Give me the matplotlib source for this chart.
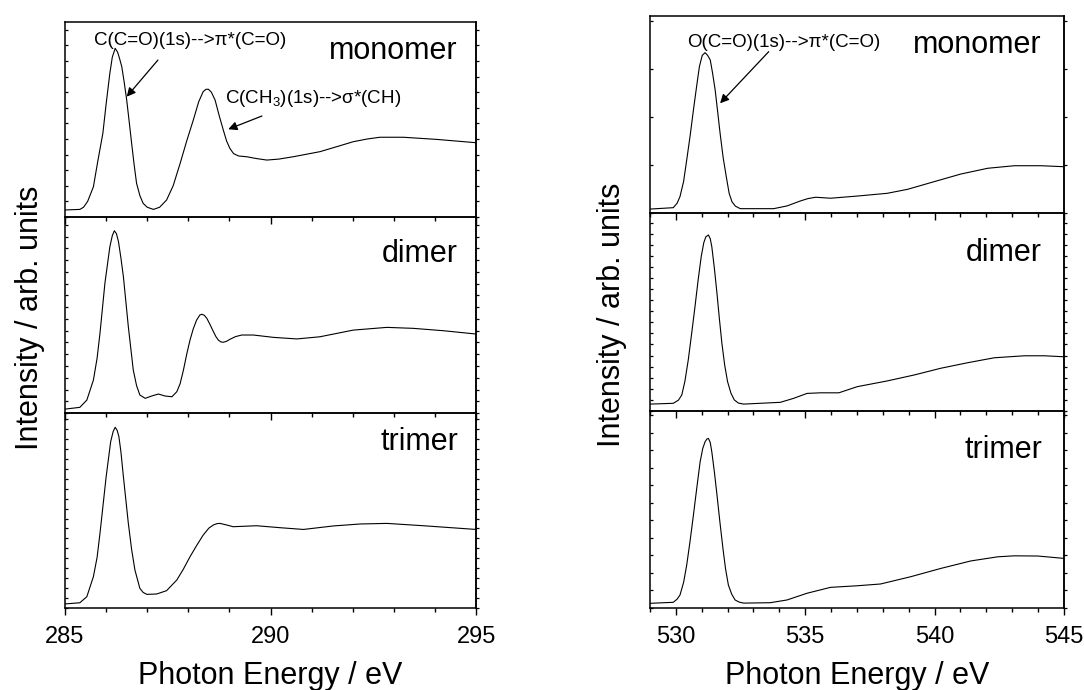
import numpy as np
import matplotlib
matplotlib.use("Agg")
import matplotlib.pyplot as plt
from matplotlib.ticker import MultipleLocator, NullFormatter

plt.rcParams['font.family'] = ['Liberation Sans', 'DejaVu Sans']
plt.rcParams['mathtext.fontset'] = 'custom'
plt.rcParams['mathtext.rm'] = 'Liberation Sans'
plt.rcParams['mathtext.it'] = 'Liberation Sans'

# C 1s edge (intensity as fraction of panel height)
c_mono_e = [285.0, 285.36, 285.45, 285.55, 285.69, 285.80, 285.92, 286.00, 286.09, 286.15,
            286.22, 286.28, 286.33, 286.38, 286.44, 286.50, 286.56, 286.62, 286.68, 286.74,
            286.82, 286.90, 287.0, 287.15, 287.30, 287.47, 287.63, 287.80, 287.96, 288.12,
            288.25, 288.36, 288.43, 288.49, 288.56, 288.65, 288.75, 288.85, 288.93, 289.01,
            289.10, 289.22, 289.42, 289.65, 289.91, 290.2, 290.55, 291.20, 291.6, 292.01,
            292.35, 292.66, 293.23, 294.04, 295.0]
c_mono = [0.036, 0.039, 0.05, 0.08, 0.155, 0.29, 0.429, 0.58, 0.737, 0.82,
          0.865, 0.845, 0.81, 0.771, 0.69, 0.60, 0.49, 0.378, 0.27, 0.173,
          0.11, 0.070, 0.05, 0.039, 0.05, 0.087, 0.16, 0.275, 0.39, 0.497,
          0.59, 0.643, 0.655, 0.655, 0.64, 0.60, 0.52, 0.446, 0.39, 0.352,
          0.325, 0.313, 0.309, 0.30, 0.292, 0.297, 0.309, 0.335, 0.36, 0.386,
          0.40, 0.409, 0.409, 0.398, 0.381]

c_dim_e = [285.0, 285.36, 285.53, 285.69, 285.78, 285.85, 285.97, 286.09, 286.15, 286.20,
           286.25, 286.30, 286.36, 286.42, 286.54, 286.66, 286.74, 286.82, 286.95, 287.11,
           287.27, 287.43, 287.60, 287.72, 287.80, 287.88, 287.96, 288.04, 288.12, 288.20,
           288.28, 288.33, 288.39, 288.45, 288.53, 288.61, 288.67, 288.73, 288.79, 288.85,
           288.93, 289.01, 289.15, 289.30, 289.58, 290.07, 290.64, 291.20, 292.01, 292.83,
           293.47, 294.20, 295.0]
c_dim = [0.020, 0.029, 0.066, 0.168, 0.28, 0.407, 0.662, 0.848, 0.905, 0.930,
         0.915, 0.874, 0.79, 0.695, 0.440, 0.219, 0.14, 0.092, 0.075, 0.087,
         0.097, 0.087, 0.083, 0.109, 0.15, 0.219, 0.30, 0.372, 0.43, 0.474,
         0.50, 0.504, 0.498, 0.483, 0.45, 0.415, 0.39, 0.372, 0.363, 0.361,
         0.366, 0.376, 0.39, 0.398, 0.398, 0.386, 0.378, 0.389, 0.423, 0.437,
         0.432, 0.420, 0.403]

c_tri_e = [285.0, 285.36, 285.53, 285.69, 285.78, 285.85, 286.00, 286.11, 286.17, 286.22,
           286.27, 286.31, 286.36, 286.42, 286.54, 286.62, 286.70, 286.82, 286.90, 286.99,
           287.23, 287.47, 287.72, 287.88, 288.04, 288.20, 288.36, 288.50, 288.61, 288.70,
           288.77, 288.93, 289.09, 289.66, 290.23, 290.80, 291.53, 292.18, 292.83, 293.72,
           295.0]
c_tri = [0.021, 0.027, 0.058, 0.161, 0.26, 0.383, 0.673, 0.853, 0.905, 0.927,
         0.91, 0.879, 0.80, 0.673, 0.434, 0.30, 0.195, 0.101, 0.08, 0.070,
         0.072, 0.089, 0.144, 0.20, 0.263, 0.32, 0.374, 0.41, 0.426, 0.433,
         0.434, 0.426, 0.417, 0.422, 0.412, 0.403, 0.421, 0.431, 0.434, 0.422,
         0.403]

# O 1s edge
o_mono_e = [529.0, 529.90, 530.05, 530.16, 530.30, 530.42, 530.55, 530.68, 530.80, 530.91,
            531.02, 531.13, 531.23, 531.33, 531.42, 531.52, 531.62, 531.71, 531.83, 531.95,
            532.06, 532.17, 532.30, 532.49, 533.78, 534.30, 534.81, 535.10, 535.40, 535.98,
            537.01, 538.17, 538.95, 539.98, 541.02, 542.05, 543.08, 544.12, 545.0]
o_mono = [0.020, 0.027, 0.05, 0.083, 0.16, 0.269, 0.39, 0.523, 0.64, 0.743,
          0.80, 0.814, 0.80, 0.777, 0.71, 0.624, 0.51, 0.405, 0.28, 0.184,
          0.10, 0.057, 0.035, 0.022, 0.022, 0.036, 0.061, 0.073, 0.080, 0.075,
          0.086, 0.100, 0.120, 0.159, 0.198, 0.227, 0.240, 0.240, 0.235]

o_dim_e = [529.0, 529.90, 530.10, 530.23, 530.35, 530.48, 530.61, 530.74, 530.86, 530.98,
           531.08, 531.16, 531.26, 531.33, 531.39, 531.49, 531.59, 531.68, 531.78, 531.89,
           532.00, 532.13, 532.26, 532.42, 532.62, 534.04, 534.55, 535.07, 535.59, 536.30,
           537.01, 538.17, 539.21, 540.24, 541.28, 542.31, 543.47, 544.24, 545.0]
o_dim = [0.035, 0.039, 0.055, 0.081, 0.15, 0.258, 0.39, 0.527, 0.66, 0.779,
         0.85, 0.880, 0.889, 0.87, 0.830, 0.72, 0.594, 0.47, 0.342, 0.23,
         0.148, 0.09, 0.056, 0.04, 0.035, 0.044, 0.064, 0.089, 0.092, 0.092,
         0.123, 0.152, 0.182, 0.216, 0.244, 0.269, 0.279, 0.279, 0.274]

o_tri_e = [529.0, 529.90, 530.05, 530.16, 530.30, 530.42, 530.55, 530.68, 530.81, 530.94,
           531.04, 531.13, 531.20, 531.26, 531.33, 531.39, 531.49, 531.59, 531.70, 531.82,
           531.92, 532.03, 532.16, 532.29, 532.45, 532.62, 533.65, 534.30, 535.07, 535.98,
           537.01, 537.91, 539.08, 540.24, 541.40, 542.44, 543.08, 543.99, 545.0]
o_tri = [0.024, 0.029, 0.045, 0.066, 0.13, 0.218, 0.34, 0.472, 0.61, 0.743,
         0.81, 0.844, 0.858, 0.861, 0.84, 0.793, 0.69, 0.574, 0.44, 0.303,
         0.20, 0.117, 0.07, 0.041, 0.03, 0.025, 0.027, 0.041, 0.075, 0.105,
         0.113, 0.122, 0.159, 0.201, 0.239, 0.260, 0.265, 0.264, 0.252]

names = ['monomer', 'dimer', 'trimer']
c_curves = [(c_mono_e, c_mono), (c_dim_e, c_dim), (c_tri_e, c_tri)]
o_curves = [(o_mono_e, o_mono), (o_dim_e, o_dim), (o_tri_e, o_tri)]

fig = plt.figure(figsize=(10.84, 6.9), dpi=100)

# panel boxes (left, bottom, width, height) in figure fraction
left_boxes = [[0.0600, 0.6855, 0.3792, 0.2826],
              [0.0600, 0.4014, 0.3792, 0.2841],
              [0.0600, 0.1188, 0.3792, 0.2826]]
right_boxes = [[0.5996, 0.6913, 0.3819, 0.2855],
               [0.5996, 0.4043, 0.3819, 0.2870],
               [0.5996, 0.1188, 0.3819, 0.2855]]
left_ystep = [0.080, 0.060, 0.051]
right_ystep = [0.244, 0.056, 0.089]
left_ylab = [0.81, 0.77, 0.81]
right_ylab = [0.81, 0.76, 0.76]


def make_panel(box, xdata, ydata, xlim, ystep, label, label_x, label_y, last):
    ax = fig.add_axes(box)
    ax.plot(xdata, ydata, color='black', lw=0.8)
    ax.set_xlim(*xlim)
    ax.set_ylim(0, 1)
    for sp in ax.spines.values():
        sp.set_linewidth(1.1)
    ax.xaxis.set_major_locator(MultipleLocator(5))
    ax.xaxis.set_minor_locator(MultipleLocator(1))
    ax.tick_params(axis='x', which='both', direction='out', top=False, bottom=True,
                   labelsize=17, pad=8)
    ax.tick_params(axis='x', which='major', length=5, width=1.0)
    ax.tick_params(axis='x', which='minor', length=3, width=1.0)
    if not last:
        ax.tick_params(axis='x', labelbottom=False)
    ax.yaxis.set_major_locator(MultipleLocator(ystep))
    ax.yaxis.set_major_formatter(NullFormatter())
    ax.tick_params(axis='y', which='both', direction='in', left=True, right=False,
                   length=2.5, width=0.9)
    sec = ax.secondary_yaxis('right')
    sec.yaxis.set_major_locator(MultipleLocator(ystep))
    sec.yaxis.set_major_formatter(NullFormatter())
    sec.tick_params(direction='out', length=2.5, width=0.9)
    sec.spines['right'].set_linewidth(1.1)
    ax.text(label_x, label_y, label, transform=ax.transAxes, ha='right', va='baseline',
            fontsize=22)
    return ax


left_axes = []
right_axes = []
for i in range(3):
    left_axes.append(make_panel(left_boxes[i], c_curves[i][0], c_curves[i][1], (285, 295),
                                left_ystep[i], names[i], 0.956, left_ylab[i], i == 2))
    right_axes.append(make_panel(right_boxes[i], o_curves[i][0], o_curves[i][1], (529, 545),
                                 right_ystep[i], names[i], 0.947, right_ylab[i], i == 2))

# draw upper panels above the lower ones so their outward ticks show
for i, ax in enumerate(left_axes + right_axes):
    ax.set_zorder(10 - (i % 3))
    ax.patch.set_alpha(0)

arrow = dict(arrowstyle='-|>', color='black', lw=0.9, mutation_scale=13,
             shrinkA=0, shrinkB=0)

ax = left_axes[0]
ax.text(288.04, 0.882, 'C(C=O)(1s)-->π*(C=O)', ha='center', va='baseline', fontsize=13.5)
ax.annotate('', xy=(286.50, 0.617), xytext=(287.26, 0.805), arrowprops=arrow)
ax.text(288.89, 0.585, r'C(CH$_\mathregular{3}$)(1s)-->σ*(CH)', ha='left', va='baseline',
        fontsize=13.5)
ax.annotate('', xy=(288.97, 0.450), xytext=(289.79, 0.518), arrowprops=arrow)

ax = right_axes[0]
ax.text(534.16, 0.843, 'O(C=O)(1s)-->π*(C=O)', ha='center', va='baseline', fontsize=13.5)
ax.annotate('', xy=(531.71, 0.557), xytext=(533.59, 0.819), arrowprops=arrow)

left_axes[2].set_xlabel('Photon Energy / eV', fontsize=22, labelpad=9)
right_axes[2].set_xlabel('Photon Energy / eV', fontsize=22, labelpad=9)

fig.text(30 / 1084, 1 - 318 / 690, 'Intensity / arb. units', rotation=90,
         ha='center', va='center', fontsize=22)
fig.text(612 / 1084, 1 - 315 / 690, 'Intensity / arb. units', rotation=90,
         ha='center', va='center', fontsize=22)

fig.savefig('out.png', dpi=100)
